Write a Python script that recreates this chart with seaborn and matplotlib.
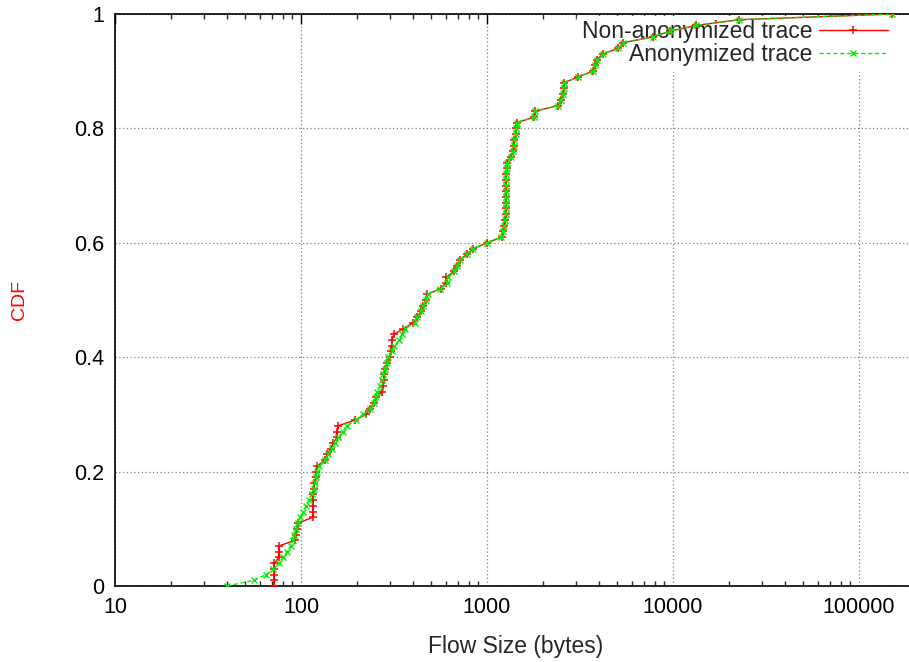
import matplotlib
matplotlib.use("Agg")
import matplotlib.pyplot as plt
import seaborn as sns
from matplotlib.ticker import LogLocator, FixedLocator, NullFormatter

# Flow size CDF
red_size = [72, 72, 72, 72, 72, 76, 76, 76, 93, 94, 95, 96,
            116, 116, 116, 116, 116, 117, 118, 120, 121, 122,
            135, 138, 145, 149, 156, 157, 158, 195, 224, 235,
            247, 254, 274, 277, 279, 281, 283, 291, 301, 303,
            307, 307, 316, 355, 402, 422, 440, 454, 470, 478,
            564, 602, 602, 665, 690, 716, 778, 844, 1004, 1200,
            1214, 1239, 1250, 1264, 1264, 1264, 1266, 1268, 1268, 1270,
            1272, 1274, 1274, 1340, 1384, 1402, 1402, 1432, 1440, 1445,
            1800, 1813, 2417, 2489, 2552, 2594, 2594, 3097, 3700, 3808,
            3891, 4190, 5083, 5410, 7839, 9640, 13300, 22720, 150000]
red_cdf = [0.0, 0.01, 0.02, 0.03, 0.04, 0.05, 0.06, 0.07, 0.08, 0.09, 0.10, 0.11,
           0.12, 0.13, 0.14, 0.15, 0.16, 0.17, 0.18, 0.19, 0.20, 0.21,
           0.22, 0.23, 0.24, 0.25, 0.26, 0.27, 0.28, 0.29, 0.30, 0.31,
           0.32, 0.33, 0.34, 0.35, 0.36, 0.37, 0.38, 0.39, 0.40, 0.41,
           0.42, 0.43, 0.44, 0.45, 0.46, 0.47, 0.48, 0.49, 0.50, 0.51,
           0.52, 0.53, 0.54, 0.55, 0.56, 0.57, 0.58, 0.59, 0.60, 0.61,
           0.62, 0.63, 0.64, 0.65, 0.66, 0.67, 0.68, 0.69, 0.70, 0.71,
           0.72, 0.73, 0.74, 0.75, 0.76, 0.77, 0.78, 0.79, 0.80, 0.81,
           0.82, 0.83, 0.84, 0.85, 0.86, 0.87, 0.88, 0.89, 0.90, 0.91,
           0.92, 0.93, 0.94, 0.95, 0.96, 0.97, 0.98, 0.99, 1.0]

green_size = [40, 56, 65, 71, 76, 80, 84, 88, 91, 92, 94, 96,
              99, 103, 107, 110, 114, 117, 119, 120, 122, 125,
              135, 140, 146, 152, 159, 168, 176, 198, 215, 235,
              247, 252, 257, 266, 272, 277, 283, 291, 295, 307,
              318, 338, 350, 362, 410, 422, 440, 451, 470, 480,
              560, 610, 620, 665, 690, 716, 778, 844, 1004, 1190,
              1214, 1239, 1250, 1262, 1264, 1264, 1266, 1268, 1268, 1270,
              1272, 1274, 1276, 1340, 1384, 1402, 1405, 1432, 1440, 1445,
              1800, 1813, 2417, 2489, 2552, 2594, 2600, 3097, 3700, 3808,
              3891, 4190, 5083, 5410, 7839, 9640, 13300, 22720, 150000]
green_cdf = red_cdf

x_ticks = [10, 100, 1000, 10000, 100000]
x_labels = ["10", "100", "1000", "10000", "100000"]
y_ticks = [0, 0.2, 0.4, 0.6, 0.8, 1]
y_labels = ["0", "0.2", "0.4", "0.6", "0.8", "1"]

sns.set_style("white")
plt.rcParams["font.family"] = ["Liberation Sans", "DejaVu Sans"]

fig = plt.figure(figsize=(9.09, 6.62), dpi=100)
ax = fig.add_axes([115 / 909, 1 - 586 / 662, 794 / 909, 572 / 662])

sns.lineplot(x=red_size, y=red_cdf, ax=ax, sort=False, estimator=None,
             color="#ff0000", linewidth=1.0, marker="+", markersize=6,
             markeredgecolor="#ff0000", markeredgewidth=1.1,
             label="Non-anonymized trace", zorder=3)
sns.lineplot(x=green_size, y=green_cdf, ax=ax, sort=False, estimator=None,
             color="#00ee00", linewidth=1.0, linestyle=(0, (3, 2)),
             marker="x", markersize=5, markeredgecolor="#00ee00",
             markeredgewidth=1.0, label="Anonymized trace", zorder=4)

ax.set_xscale("log")
ax.set_xlim(10, 185800)
ax.set_ylim(0, 1)

ax.xaxis.set_major_locator(FixedLocator(x_ticks))
ax.set_xticklabels(x_labels)
ax.xaxis.set_minor_locator(LogLocator(base=10, subs=range(2, 10), numticks=20))
ax.xaxis.set_minor_formatter(NullFormatter())
ax.set_yticks(y_ticks)
ax.set_yticklabels(y_labels)

ax.tick_params(axis="both", which="major", direction="in", length=7, width=1,
               labelsize=15.5, pad=8, top=True, right=False, colors="black")
ax.tick_params(axis="x", which="minor", direction="in", length=3.5, width=1,
               top=True, bottom=True)

ax.set_axisbelow(True)
ax.grid(True, which="major", color="0.5", linestyle=(0, (1, 2)), linewidth=0.9)

for side in ["left", "bottom", "top"]:
    ax.spines[side].set_color("black")
    ax.spines[side].set_linewidth(1.2)
ax.spines["right"].set_visible(False)

ax.set_xlabel("Flow Size (bytes)", fontsize=16.5)
ax.xaxis.set_label_coords(0.504, -0.085)
ax.set_ylabel("CDF", fontsize=14, color="red")
ax.yaxis.set_label_coords(-0.1096, 0.5)

leg = ax.legend(loc="upper right", bbox_to_anchor=(0.979, 0.997),
                markerfirst=False, fontsize=16.5, frameon=True, fancybox=False,
                handlelength=3.0, labelspacing=0.0, borderpad=0.2,
                borderaxespad=0.0, handletextpad=0.3, numpoints=1)
leg.get_frame().set_edgecolor("white")
leg.get_frame().set_facecolor("white")
leg.get_frame().set_alpha(1.0)
leg.set_zorder(1)

fig.savefig("out.png", dpi=100)
